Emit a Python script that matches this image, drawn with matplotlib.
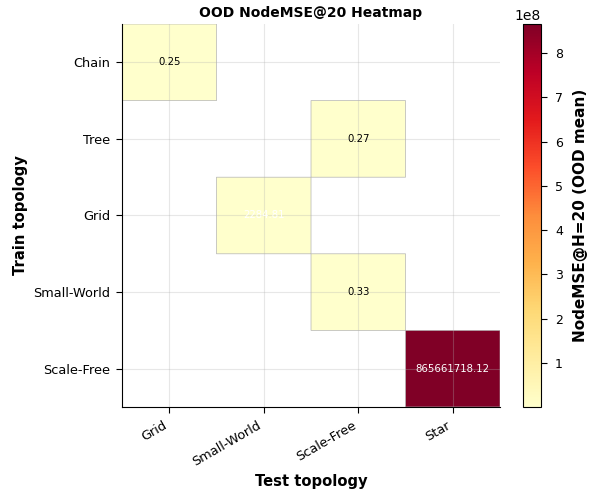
import matplotlib.pyplot as plt
import numpy as np

train_topos = ["Chain", "Tree", "Grid", "Small-World", "Scale-Free"]
test_topos = ["Grid", "Small-World", "Scale-Free", "Star"]
nan = np.nan
mse = [
    [0.25, nan, nan, nan],
    [nan, nan, 0.27, nan],
    [nan, 2284.81, nan, nan],
    [nan, nan, 0.33, nan],
    [nan, nan, nan, 865661718.12],
]

data = np.ma.masked_invalid(np.array(mse))

plt.rcParams["xtick.major.size"] = 4
plt.rcParams["ytick.major.size"] = 4
plt.rcParams["xtick.major.pad"] = 4.5
plt.rcParams["ytick.major.pad"] = 4.5

fig = plt.figure(figsize=(5.94, 4.95), dpi=100)
ax = fig.add_axes([0.2054, 0.1778, 0.6364, 0.7737])
cax = fig.add_axes([0.8805, 0.1778, 0.0303, 0.7737])

# pcolor skips masked cells, so empty ones stay white
mesh = ax.pcolor(data, cmap="YlOrRd", edgecolors="0.7", linewidth=0.5)
ax.set_xlim(0, len(test_topos))
ax.set_ylim(len(train_topos), 0)

ax.set_xticks(np.arange(len(test_topos)) + 0.5)
ax.set_xticklabels(test_topos, rotation=30, ha="right", fontsize=9.3)
ax.set_yticks(np.arange(len(train_topos)) + 0.5)
ax.set_yticklabels(train_topos, fontsize=9.3)
ax.grid(True, color="#b0b0b0", alpha=0.3, linewidth=0.8)
for s in ["top", "right"]:
    ax.spines[s].set_visible(False)

for i in range(len(train_topos)):
    for j in range(len(test_topos)):
        v = mse[i][j]
        if np.isnan(v):
            continue
        col = "white" if v > 1000 else "black"
        ax.text(j + 0.5, i + 0.5, f"{v:.2f}", ha="center", va="center",
                fontsize=7.3, color=col, zorder=3)

ax.set_xlabel("Test topology", fontsize=10.6, fontweight="bold")
ax.set_ylabel("Train topology", fontsize=10.6, fontweight="bold")
ax.set_title("OOD NodeMSE@20 Heatmap", fontsize=10, fontweight="bold", pad=5)

cb = fig.colorbar(mesh, cax=cax)
cb.ax.tick_params(labelsize=9, length=4, pad=6)
cb.set_label("NodeMSE@H=20 (OOD mean)", fontsize=11, fontweight="bold",
             labelpad=7)

fig.savefig("out.png", dpi=100)
